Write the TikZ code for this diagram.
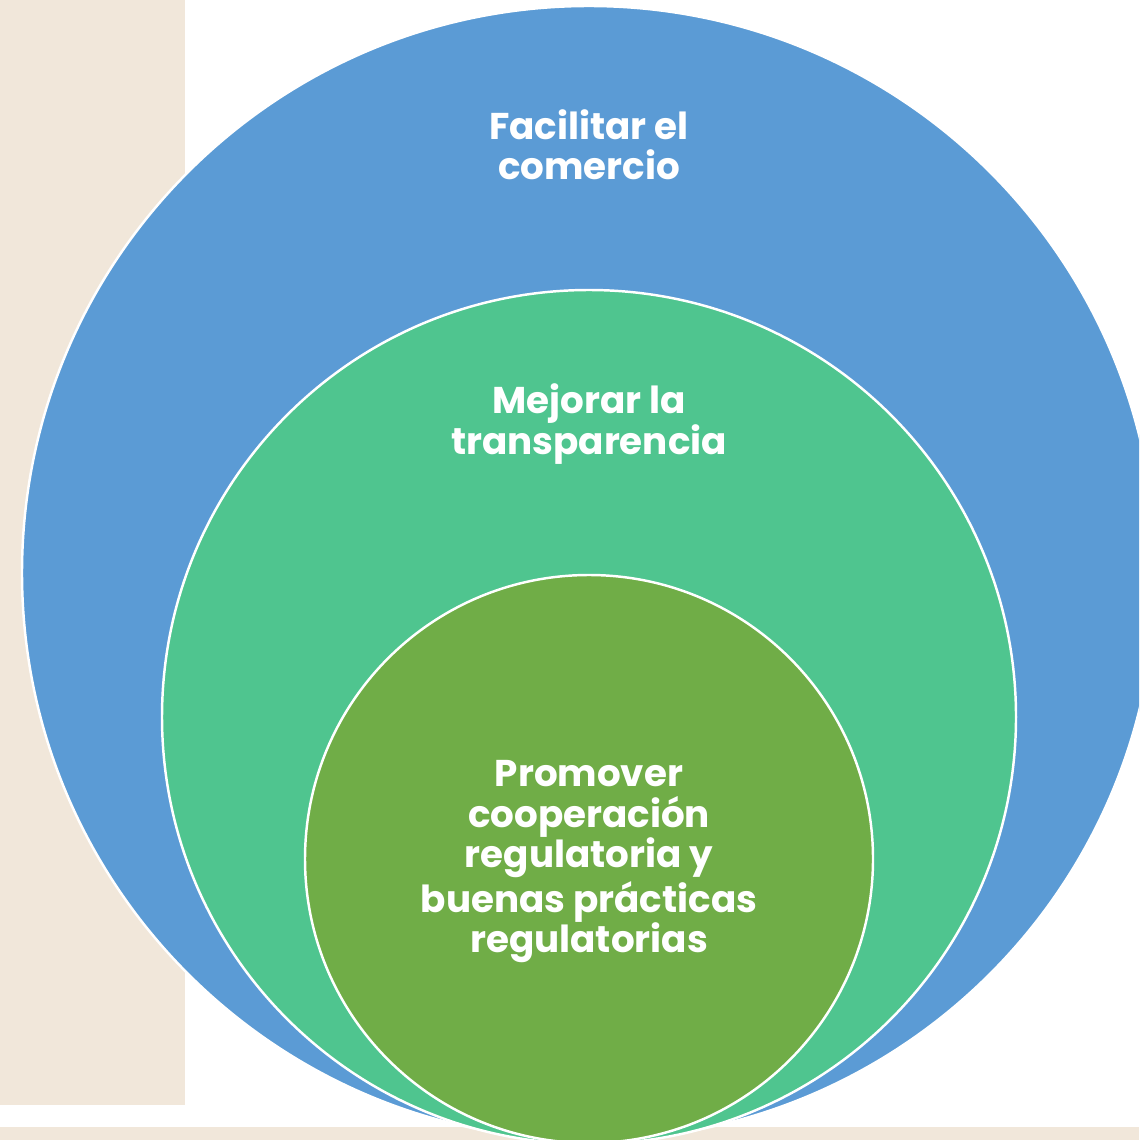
\documentclass[tikz,border=0pt]{standalone}
\usepackage{fontspec}
\setmainfont{Poppins}
\usepackage{tikz}
\usetikzlibrary{shapes,positioning,calc}

\definecolor{beige}{RGB}{241,231,218}
\definecolor{outerblue}{RGB}{91,155,213}
\definecolor{midgreen}{RGB}{79,197,143}
\definecolor{innergreen}{RGB}{112,173,71}

\tikzset{
	ring/.style={draw=white,line width=0.7pt},
	lbl/.style={text=white,align=center,font=\fontsize{10.6}{11.5}\selectfont\bfseries}
}

\begin{document}
\begin{tikzpicture}[x=0.01cm,y=-0.01cm]
	\useasboundingbox (0,0) rectangle (1139,1140);
	\begin{scope}
	\clip (0,0) rectangle (1139,1140);
	\fill[beige] (0,0) rectangle (185,1105);
	\fill[beige] (0,1127) rectangle (1139,1140);

	\filldraw[ring,fill=outerblue] (589,573) circle (567);
	\filldraw[ring,fill=midgreen] (589,717) circle (427);
	\filldraw[ring,fill=innergreen] (589,859) circle (284);
	\end{scope}

	\node[lbl] (comercio) at (589,145) {Facilitar el\\comercio};
	\node[lbl] (transparencia) at (589,424) {Mejorar la\\transparencia};
	\node[lbl] (cooperacion) at (589,862) {Promover\\cooperación\\regulatoria y\\buenas prácticas\\regulatorias};
\end{tikzpicture}
\end{document}
